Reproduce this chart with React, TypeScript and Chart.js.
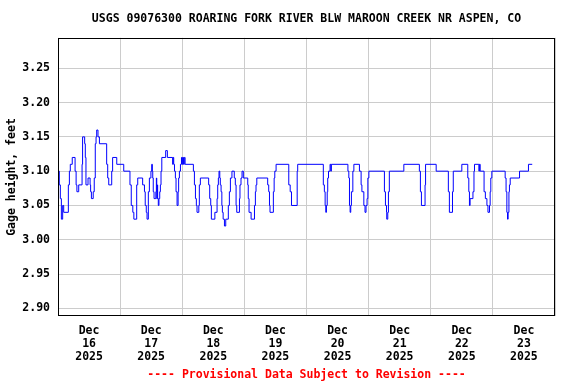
import { useEffect, useRef } from 'react';
import { Chart, registerables } from 'chart.js';

Chart.register(...registerables);

const titleText = 'USGS 09076300 ROARING FORK RIVER BLW MAROON CREEK NR ASPEN, CO';
const yAxisTitle = 'Gage height, feet';
const footerText = '---- Provisional Data Subject to Revision ----';
const monthLabel = 'Dec';
const yearLabel = '2025';
const dayLabels = ['16', '17', '18', '19', '20', '21', '22', '23'];
const yTickValues = [2.9, 2.95, 3.0, 3.05, 3.1, 3.15, 3.2, 3.25];

// hours since Dec 16 2025 00:00, and gage height (ft) from that time on
const hours = [
  0, 0.5, 0.9, 1.3, 1.8, 2.2, 4.0, 4.4, 4.75, 5.5, 6.6, 7.0, 7.3, 8.0, 9.3, 9.5, 10.3, 10.55, 10.8,
  11.6, 12.4, 12.6, 12.9, 13.6, 14.0, 14.4, 14.7, 14.95, 15.45, 16.0, 18.8, 19.2, 19.6, 20.75, 21.1,
  22.7, 25.4, 27.8, 28.3, 28.9, 29.3, 30.4, 30.8, 32.7, 33.4, 33.7, 34.1, 34.4, 34.9, 35.3, 35.9,
  36.2, 36.45, 36.6, 36.8, 37.1, 37.8, 38.0, 38.15, 38.4, 38.5, 38.75, 39.0, 39.3, 39.55, 39.8,
  40.1, 41.6, 42.25, 44.3, 44.45, 44.7, 45.0, 45.35, 45.6, 46.0, 46.4, 46.6, 46.9, 47.3, 47.7,
  48.0, 48.2, 48.5, 48.8, 49.1, 52.3, 52.7, 53.1, 53.45, 53.7, 54.4, 54.6, 55.0, 58.2, 58.6, 59.0,
  59.25, 60.6, 61.45, 61.7, 61.95, 62.2, 62.5, 62.7, 63.0, 63.3, 63.5, 63.8, 64.3, 64.8, 65.8,
  66.2, 66.6, 67.2, 68.1, 68.5, 68.8, 69.05, 70.1, 70.3, 70.7, 71.1, 71.6, 73.3, 73.5, 73.8, 74.6,
  75.9, 76.25, 76.5, 76.8, 81.0, 81.4, 81.7, 81.9, 83.2, 83.5, 83.75, 84.25, 89.15, 89.7, 90.2,
  92.4, 92.6, 102.5, 102.9, 103.2, 103.45, 103.7, 104.0, 104.2, 104.5, 105.1, 105.4, 105.6, 112.0,
  112.35, 112.6, 112.85, 113.1, 113.35, 113.9, 114.3, 116.45, 117.1, 117.4, 118.15, 118.6, 119.0,
  119.4, 119.7, 120.1, 126.1, 126.5, 126.9, 127.0, 127.4, 127.65, 128.0, 133.6, 139.6, 140.0,
  140.4, 141.8, 142.0, 146.1, 150.8, 151.2, 152.4, 152.7, 156.0, 158.3, 158.7, 158.95, 159.2,
  160.3, 160.7, 160.9, 162.6, 162.8, 163.1, 164.6, 165.1, 165.7, 166.1, 166.7, 166.95, 167.2,
  167.6, 172.75, 173.1, 173.4, 173.65, 173.9, 174.2, 174.4, 174.7, 178.3, 181.75, 183.2,
];
const gageHeight = [
  3.10, 3.08, 3.06, 3.03, 3.05, 3.04, 3.08, 3.10, 3.11, 3.12, 3.10, 3.08, 3.07, 3.08, 3.11, 3.15, 3.14, 3.12, 3.08,
  3.09, 3.08, 3.07, 3.06, 3.07, 3.09, 3.14, 3.15, 3.16, 3.15, 3.14, 3.11, 3.09, 3.08, 3.10, 3.12,
  3.11, 3.10, 3.08, 3.05, 3.04, 3.03, 3.08, 3.09, 3.08, 3.07, 3.05, 3.04, 3.03, 3.07, 3.09, 3.10,
  3.11, 3.10, 3.09, 3.07, 3.06, 3.07, 3.09, 3.06, 3.08, 3.06, 3.05, 3.06, 3.07, 3.08, 3.10,
  3.12, 3.13, 3.12, 3.11, 3.12, 3.11, 3.10, 3.09, 3.07, 3.05, 3.07, 3.09, 3.10, 3.11, 3.12,
  3.11, 3.12, 3.11, 3.12, 3.11, 3.10, 3.08, 3.06, 3.05, 3.04, 3.05, 3.08, 3.09, 3.08, 3.06, 3.05,
  3.03, 3.04, 3.06, 3.08, 3.09, 3.10, 3.09, 3.08, 3.07, 3.05, 3.04, 3.03, 3.02, 3.03, 3.05,
  3.07, 3.09, 3.10, 3.09, 3.08, 3.05, 3.04, 3.06, 3.08, 3.09, 3.10, 3.09, 3.08, 3.06, 3.04, 3.03,
  3.05, 3.07, 3.08, 3.09, 3.08, 3.07, 3.05, 3.04, 3.07, 3.09, 3.10, 3.11, 3.08, 3.07, 3.05,
  3.10, 3.11, 3.08, 3.07, 3.05, 3.04, 3.05, 3.07, 3.09, 3.10, 3.11, 3.10, 3.11, 3.10,
  3.09, 3.05, 3.04, 3.05, 3.07, 3.10, 3.11, 3.10, 3.08, 3.07, 3.05, 3.04, 3.05,
  3.06, 3.09, 3.10, 3.07, 3.05, 3.04, 3.03, 3.04, 3.07, 3.10, 3.11, 3.10, 3.07,
  3.05, 3.08, 3.11, 3.10, 3.07, 3.04, 3.07, 3.10, 3.11, 3.09, 3.07, 3.05, 3.06,
  3.07, 3.10, 3.11, 3.10, 3.11, 3.10, 3.07, 3.06, 3.05, 3.04, 3.05, 3.07, 3.09,
  3.10, 3.09, 3.07, 3.04, 3.03, 3.04, 3.07, 3.08, 3.09, 3.10, 3.11, 3.11,
];

const FONT = '"DejaVu Sans Mono", "Liberation Mono", monospace';

const framePlugin = {
  id: 'frame',
  afterDatasetsDraw(chart: any) {
    const { ctx, chartArea } = chart;
    const l = Math.round(chartArea.left) + 0.5;
    const t = Math.round(chartArea.top) + 0.5;
    const r = Math.round(chartArea.right) - 0.5;
    const b = Math.round(chartArea.bottom) - 0.5;
    ctx.save();
    ctx.strokeStyle = '#000000';
    ctx.lineWidth = 1;
    ctx.strokeRect(l, t, r - l, b - t);
    ctx.restore();
  },
};

export default function App() {
  const canvasRef = useRef<HTMLCanvasElement | null>(null);

  useEffect(() => {
    const canvas = canvasRef.current;
    if (!canvas) return;
    const points = hours.map((h, i) => ({ x: h, y: gageHeight[i] }));
    const chart = new Chart(canvas, {
      type: 'line',
      data: {
        datasets: [
          {
            data: points,
            borderColor: '#0000ff',
            borderWidth: 1,
            pointRadius: 0,
            stepped: true,
            fill: false,
          },
        ],
      },
      options: {
        animation: false,
        responsive: false,
        devicePixelRatio: 1,
        layout: { padding: { left: 0, right: 21, top: 0, bottom: 0 } },
        plugins: {
          legend: { display: false },
          tooltip: { enabled: false },
          title: {
            display: true,
            text: titleText,
            fullSize: false,
            color: '#000000',
            font: { family: FONT, size: 11.5, weight: 'bold', lineHeight: 1.2 },
            padding: { top: 12, bottom: 12 },
          },
          subtitle: {
            display: true,
            text: footerText,
            position: 'bottom',
            fullSize: false,
            color: '#ff0000',
            font: { family: FONT, size: 11.5, weight: 'bold', lineHeight: 1.2 },
            padding: { top: 4, bottom: 2 },
          },
        },
        scales: {
          x: {
            type: 'linear',
            min: 0,
            max: 192,
            afterBuildTicks: (scale: any) => {
              const t = [];
              for (let v = 0; v <= 192; v += 12) t.push({ value: v });
              scale.ticks = t;
            },
            afterFit: (scale: any) => {
              scale.height = 48;
            },
            border: { display: false },
            grid: {
              drawTicks: false,
              color: (ctx: any) =>
                ctx.tick && ctx.tick.value % 24 === 0 ? '#cccccc' : 'rgba(0,0,0,0)',
              lineWidth: 1,
            },
            ticks: {
              autoSkip: false,
              maxRotation: 0,
              minRotation: 0,
              padding: 8,
              color: '#000000',
              font: { family: FONT, size: 11.5, weight: 'bold', lineHeight: 1.13 },
              callback: (value: any) => {
                const v = Number(value);
                if (v % 24 === 12) {
                  const idx = (v - 12) / 24;
                  return [monthLabel, dayLabels[idx], yearLabel];
                }
                return '';
              },
            },
          },
          y: {
            type: 'linear',
            min: 2.8885,
            max: 3.2945,
            afterBuildTicks: (scale: any) => {
              scale.ticks = yTickValues.map((v) => ({ value: v }));
            },
            afterFit: (scale: any) => {
              scale.width = 58;
            },
            border: { display: false },
            grid: { drawTicks: false, color: '#cccccc', lineWidth: 1 },
            title: {
              display: true,
              text: yAxisTitle,
              color: '#000000',
              font: { family: FONT, size: 11.5, weight: 'bold', lineHeight: 1.2 },
              padding: { top: 5, bottom: 0 },
            },
            ticks: {
              padding: 8,
              color: '#000000',
              font: { family: FONT, size: 11.5, weight: 'bold' },
              callback: (value: any) => Number(value).toFixed(2),
            },
          },
        },
      },
      plugins: [framePlugin],
    } as any);
    return () => chart.destroy();
  }, []);

  return (
    <div style={{ position: 'absolute', left: 0, top: 0, width: 576, height: 384, background: '#ffffff' }}>
      <canvas ref={canvasRef} width={576} height={384} style={{ display: 'block' }} />
    </div>
  );
}
